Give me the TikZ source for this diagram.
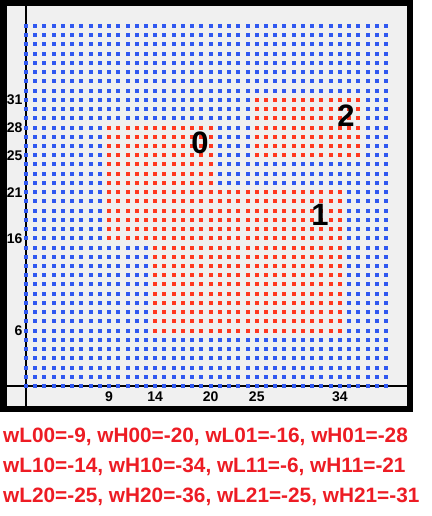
\documentclass[tikz,border=0pt]{standalone}
\usepackage{fontspec}
\setmainfont{Liberation Sans}
\usetikzlibrary{positioning}
\definecolor{panel}{RGB}{240,240,240}
\definecolor{dotblue}{RGB}{48,88,240}
\definecolor{dotred}{RGB}{255,56,32}
\definecolor{textred}{RGB}{237,28,36}
\tikzset{
	axlabel/.style={font=\bfseries\fontsize{14}{16}\selectfont, inner sep=0pt},
	winlabel/.style={font=\bfseries\fontsize{31}{35}\selectfont, inner sep=0pt},
	weights/.style={font=\bfseries\fontsize{20.8}{25}\selectfont, text=textred, inner sep=0pt, anchor=base west}
}

\begin{document}
\begin{tikzpicture}[x=1pt, y=1pt]

		\useasboundingbox (0,0) rectangle (431,516);
		\fill[white] (0,0) rectangle (431,516);

		% Frame and panel
		\fill[black] (0,104) rectangle (413,516);
		\fill[panel] (7,110) rectangle (407,510);

		% Axes
		\draw[line width=1.5pt] (26,110) -- (26,510);
		\draw[line width=1.5pt] (7,130) -- (407,130);

		\begin{scope}[shift={(26,130)}, x=9.23pt, y=9.23pt]

			% Grid of points
			\foreach \i in {0,...,39}
				\foreach \j in {0,...,39}
					\fill[dotblue] (\i,\j) +(-2pt,-2pt) rectangle +(2pt,2pt);

			% Windows
			\foreach \xl/\xh/\yl/\yh in {9/20/16/28, 14/34/6/21, 25/36/25/31}
				\foreach \i in {\xl,...,\xh}
					\foreach \j in {\yl,...,\yh}
						\fill[dotred] (\i,\j) +(-2pt,-2pt) rectangle +(2pt,2pt);

			% Tick labels
			\foreach \x in {9,14,20,25,34}
				\node[axlabel] (x-\x) at (\x,-1.14) {\x};
			\foreach \y in {6,16,21,25,28,31}
				\node[axlabel, anchor=east] (y-\y) at (-0.36,\y) {\y};

			% Window numbers
			\node[winlabel] (win0) at (18.85,26.3) {0};
			\node[winlabel] (win1) at (31.85,18.5) {1};
			\node[winlabel] (win2) at (34.67,29.25) {2};

		\end{scope}

		% Weights
		\node[weights] (wrow0) at (3,73) {wL00=-9, wH00=-20, wL01=-16, wH01=-28};
		\node[weights] (wrow1) at ([yshift=-30pt]wrow0.base west) {wL10=-14, wH10=-34, wL11=-6, wH11=-21};
		\node[weights] (wrow2) at ([yshift=-30pt]wrow1.base west) {wL20=-25, wH20=-36, wL21=-25, wH21=-31};

	\end{tikzpicture}
\end{document}
